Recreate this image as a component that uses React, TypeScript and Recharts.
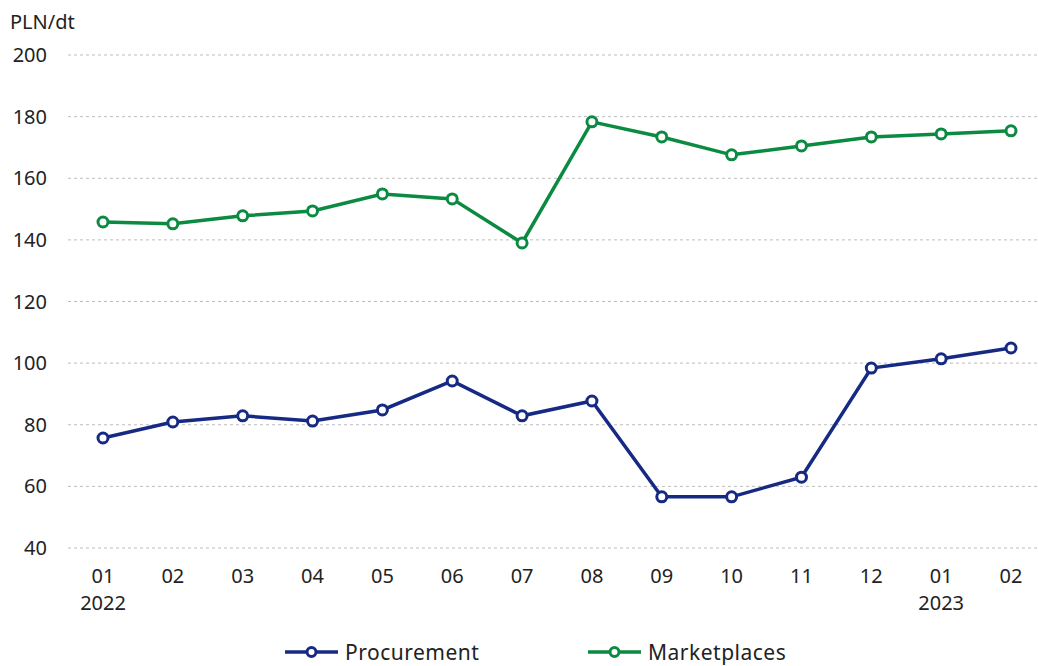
import { LineChart, Line, XAxis, YAxis, CartesianGrid } from 'recharts'

const months = ['01', '02', '03', '04', '05', '06', '07', '08', '09', '10', '11', '12', '01', '02']
const years = ['2022', '', '', '', '', '', '', '', '', '', '', '', '2023', '']
const procurement = [75.7, 80.9, 82.9, 81.2, 84.8, 94.2, 82.9, 87.7, 56.6, 56.6, 63.0, 98.4, 101.4, 104.9]
const marketplaces = [145.8, 145.2, 147.8, 149.4, 154.9, 153.3, 139.0, 178.3, 173.4, 167.6, 170.5, 173.4, 174.4, 175.4]
const yTicks = [40, 60, 80, 100, 120, 140, 160, 180, 200]

const NAVY = '#162a84'
const GREEN = '#0b8a42'
const FONT = '"Noto Sans", "Open Sans", sans-serif'

const data = months.map((m, i) => ({
  key: i,
  month: m,
  year: years[i],
  procurement: procurement[i],
  marketplaces: marketplaces[i],
}))

const MonthTick = (props: any) => {
  const { x, y, payload } = props
  const row = data[payload.value]
  return (
    <g transform={`translate(${x},${y})`}>
      <text textAnchor="middle" fill="#222" fontSize={20} fontFamily={FONT} dy={27}>
        {row.month}
      </text>
      {row.year && (
        <text textAnchor="middle" fill="#222" fontSize={20} fontFamily={FONT} dy={54}>
          {row.year}
        </text>
      )}
    </g>
  )
}

const legendItems = [
  { label: 'Procurement', color: NAVY, left: 285 },
  { label: 'Marketplaces', color: GREEN, left: 588 },
]

export default function App() {
  return (
    <div style={{ position: 'absolute', left: 0, top: 0, width: 1038, height: 666, background: '#fff', overflow: 'hidden' }}>
      <div style={{ position: 'absolute', left: 10, top: 8, fontFamily: FONT, fontSize: 20, color: '#222' }}>PLN/dt</div>
      <LineChart width={1046} height={666} data={data} margin={{ top: 55, right: 0, bottom: 40, left: 0 }}>
        <CartesianGrid vertical={false} stroke="#bdbdbd" strokeDasharray="3 3" />
        <XAxis
          dataKey="key"
          type="category"
          padding={{ left: 35, right: 35 }}
          axisLine={false}
          tickLine={false}
          height={78}
          interval={0}
          tick={<MonthTick />}
        />
        <YAxis
          width={68}
          domain={[40, 200]}
          ticks={yTicks}
          axisLine={false}
          tickLine={false}
          tickMargin={15}
          tick={{ fontSize: 20, fill: '#222', fontFamily: FONT }}
        />
        <Line
          dataKey="procurement"
          stroke={NAVY}
          strokeWidth={3.5}
          dot={{ r: 5, fill: '#fff', stroke: NAVY, strokeWidth: 3 }}
          isAnimationActive={false}
        />
        <Line
          dataKey="marketplaces"
          stroke={GREEN}
          strokeWidth={3.5}
          dot={{ r: 5, fill: '#fff', stroke: GREEN, strokeWidth: 3 }}
          isAnimationActive={false}
        />
      </LineChart>
      {legendItems.map(it => (
        <div
          key={it.label}
          style={{ position: 'absolute', left: it.left, top: 638, display: 'flex', alignItems: 'center', fontFamily: FONT, fontSize: 21, letterSpacing: 0.5, color: '#222', lineHeight: '28px' }}
        >
          <svg width={53} height={14} style={{ marginRight: 7 }}>
            <line x1={0} y1={7} x2={53} y2={7} stroke={it.color} strokeWidth={3.5} />
            <circle cx={26.5} cy={7} r={4.5} fill="#fff" stroke={it.color} strokeWidth={3} />
          </svg>
          <span>{it.label}</span>
        </div>
      ))}
    </div>
  )
}
